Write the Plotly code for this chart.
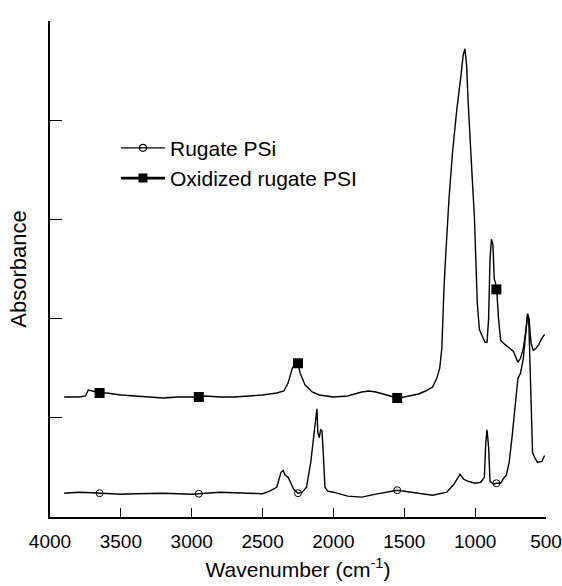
import numpy as np
import plotly.graph_objects as go

# ---- data (wavenumber cm^-1, absorbance a.u.) ----
rug_wn = [3900, 3800, 3700, 3650, 3600, 3500, 3400, 3300, 3200, 3000, 2950, 2900, 2800, 2700,
          2600, 2500, 2450, 2400, 2370, 2355, 2340, 2320, 2300, 2280, 2250, 2220, 2190, 2160,
          2140, 2125, 2116, 2110, 2100, 2090, 2081, 2070, 2060, 2040, 2000, 1900, 1800, 1700,
          1600, 1550, 1500, 1400, 1300, 1200, 1150, 1107, 1080, 1050, 1000, 960, 935, 925, 916,
          905, 895, 870, 850, 820, 800, 780, 760, 740, 720, 698, 680, 660, 640, 630, 622, 615,
          605, 595, 580, 560, 530, 510]
rug_abs = [0.24, 0.25, 0.245, 0.24, 0.235, 0.23, 0.235, 0.235, 0.24, 0.23, 0.235, 0.24, 0.25, 0.245,
           0.24, 0.235, 0.26, 0.30, 0.45, 0.47, 0.42, 0.40, 0.34, 0.28, 0.24, 0.25, 0.30, 0.55,
           0.80, 1.00, 1.09, 0.85, 0.80, 0.88, 0.87, 0.60, 0.30, 0.26, 0.25, 0.21, 0.20, 0.23,
           0.26, 0.27, 0.26, 0.24, 0.22, 0.25, 0.33, 0.43, 0.38, 0.36, 0.34, 0.35, 0.40, 0.75, 0.88,
           0.70, 0.36, 0.33, 0.34, 0.34, 0.39, 0.42, 0.55, 0.80, 1.10, 1.40, 1.45, 1.60, 1.90, 2.05, 2.00, 1.60,
           1.00, 0.65, 0.60, 0.55, 0.56, 0.62]

ox_wn = [3900, 3800, 3750, 3730, 3700, 3650, 3600, 3500, 3400, 3300, 3200, 3100, 3000, 2950, 2900,
         2800, 2700, 2600, 2500, 2400, 2350, 2320, 2290, 2270, 2250, 2235, 2220, 2200, 2170, 2150,
         2100, 2050, 2000, 1900, 1800, 1750, 1700, 1600, 1550, 1500, 1400, 1350, 1300, 1270, 1250,
         1235, 1227, 1220, 1213, 1200, 1185, 1160, 1130, 1100, 1085, 1072, 1060, 1050, 1040, 1030,
         1020, 1005, 995, 985, 970, 950, 930, 916, 905, 895, 885, 875, 865, 855, 846, 835, 820, 790,
         760, 730, 710, 698, 680, 660, 640, 630, 620, 605, 590, 570, 550, 530, 510]
ox_abs = [1.21, 1.21, 1.22, 1.28, 1.27, 1.25, 1.25, 1.23, 1.22, 1.21, 1.20, 1.21, 1.21, 1.21, 1.22,
          1.21, 1.21, 1.22, 1.23, 1.25, 1.27, 1.35, 1.50, 1.55, 1.55, 1.45, 1.40, 1.33, 1.29, 1.26,
          1.23, 1.22, 1.21, 1.22, 1.26, 1.27, 1.26, 1.22, 1.20, 1.21, 1.24, 1.27, 1.31, 1.40, 1.50,
          1.70, 2.10, 2.30, 2.50, 2.90, 3.20, 3.67, 4.10, 4.45, 4.65, 4.72, 4.55, 4.20, 3.90, 3.65,
          3.40, 3.02, 2.56, 2.16, 1.89, 1.83, 1.76, 1.76, 2.00, 2.60, 2.80, 2.75, 2.40, 2.35, 2.25, 2.00, 1.78, 1.74,
          1.70, 1.67, 1.60, 1.56, 1.60, 1.70, 1.90, 2.04, 2.00, 1.75, 1.68, 1.70, 1.74, 1.80, 1.84]

marker_wn = [3650, 2950, 2250, 1550, 850]

x_ticks = [4000, 3500, 3000, 2500, 2000, 1500, 1000, 500]
series_names = ["Rugate PSi", "Oxidized rugate PSI"]

# marker y values taken from the series themselves
rug_mk = np.interp(marker_wn, rug_wn[::-1], rug_abs[::-1])
ox_mk = np.interp(marker_wn, ox_wn[::-1], ox_abs[::-1])

fig = go.Figure()
fig.add_trace(go.Scatter(x=rug_wn, y=rug_abs, mode="lines", line=dict(color="black", width=1.4),
                         showlegend=False, hoverinfo="skip"))
fig.add_trace(go.Scatter(x=ox_wn, y=ox_abs, mode="lines", line=dict(color="black", width=1.4),
                         showlegend=False, hoverinfo="skip"))
fig.add_trace(go.Scatter(x=marker_wn, y=rug_mk, mode="markers",
                         marker=dict(symbol="circle-open", size=7, color="black", line=dict(width=1)),
                         showlegend=False))
fig.add_trace(go.Scatter(x=marker_wn, y=ox_mk, mode="markers",
                         marker=dict(symbol="square", size=10, color="black"),
                         showlegend=False))
# legend entries
fig.add_trace(go.Scatter(x=[None], y=[None], mode="lines+markers", name=series_names[0],
                         legendgroup="a",
                         line=dict(color="black", width=1.2),
                         marker=dict(symbol="circle-open", size=7, color="black", line=dict(width=1.2))))
fig.add_trace(go.Scatter(x=[None], y=[None], mode="lines+markers", name=series_names[1],
                         legendgroup="b",
                         line=dict(color="black", width=2.8),
                         marker=dict(symbol="square", size=9, color="black")))

fig.update_layout(
    width=562, height=586,
    margin=dict(l=50, r=16, t=21, b=69, autoexpand=False),
    paper_bgcolor="white", plot_bgcolor="white",
    font=dict(family="Liberation Sans, Arial, sans-serif", color="black", size=19),
    legend=dict(x=0.133, y=0.785, xanchor="left", yanchor="top", bgcolor="rgba(0,0,0,0)",
                font=dict(size=21), tracegroupgap=0, traceorder="grouped", itemwidth=44),
    xaxis=dict(range=[4000, 500], tickvals=x_ticks, ticktext=[str(t) for t in x_ticks],
               automargin=False,
               ticks="inside", ticklen=9, tickwidth=1.2, tickcolor="black", ticklabelstandoff=6,
               showline=True, linecolor="black", linewidth=1.5, showgrid=False, zeroline=False,
               title=dict(text="Wavenumber (cm<sup>-1</sup>)", font=dict(size=21), standoff=12),
               tickfont=dict(size=19)),
    yaxis=dict(range=[0, 5], dtick=1, showticklabels=False, automargin=False,
               ticks="inside", ticklen=12, tickwidth=1.2, tickcolor="black",
               showline=True, linecolor="black", linewidth=1.5, showgrid=False, zeroline=False,
               title=dict(text="Absorbance", font=dict(size=22), standoff=16)),
)

fig.write_html("out.html")
